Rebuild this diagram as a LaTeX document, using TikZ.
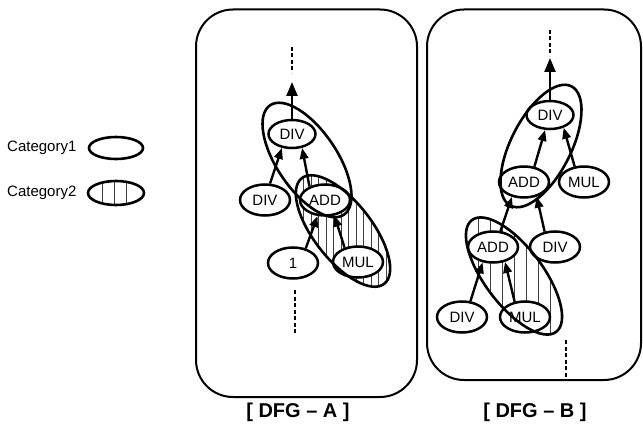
\documentclass[tikz,border=0pt]{standalone}
\usepackage{fontspec}
\setmainfont{Liberation Sans}
\usetikzlibrary{arrows.meta,shapes.geometric}
\begin{document}
\begin{tikzpicture}[x=1pt,y=-1pt,
 op/.style={ellipse,draw,line width=2.5pt,fill=white,minimum width=50pt,minimum height=31pt,inner sep=0pt,font=\fontsize{15}{15}\selectfont},
 topop/.style={op,minimum width=47pt,minimum height=28pt},
 edge/.style={line width=2.4pt,-{Triangle[length=11pt,width=8.5pt]}},
 outarrow/.style={line width=2.4pt,-{Triangle[length=14pt,width=11pt]}},
 contdash/.style={line width=2.8pt,dash pattern=on 4pt off 2.5pt},
 group/.style={line width=2.6pt},
 hatch/.style={line width=0.6pt,black!75},
 panel/.style={line width=2pt,rounded corners=37pt},
 caption/.style={font=\fontsize{20}{20}\selectfont\bfseries},
 legendtext/.style={font=\fontsize{15}{15}\selectfont,anchor=west,inner sep=0pt}]
\useasboundingbox (0,0) rectangle (643,428);

% ---------- legend ----------
\node[legendtext] (c1t) at (7,148) {Category1};
\node[legendtext] (c2t) at (7,193) {Category2};
\draw[group] (116,148) ellipse [x radius=27, y radius=11];
\begin{scope}
  \clip (116,193) ellipse [x radius=28, y radius=12];
  \foreach \x in {102,114,126} \draw[hatch,line width=0.9pt] (\x,175) -- (\x,210);
\end{scope}
\draw[group] (116,193) ellipse [x radius=28, y radius=12];

% ---------- panels ----------
\draw[panel] (196,9.5) rectangle (417,397);
\draw[panel] (427,9.5) rectangle (641,380);
\node[caption] (capA) at (298,412) {[ DFG \textendash\ A ]};
\node[caption] (capB) at (535,412) {[ DFG \textendash\ B ]};

% ---------- DFG A ----------
\begin{scope}
  \clip[shift={(343,231)},rotate=-52] (0,0) ellipse [x radius=67, y radius=29];
  \foreach \x in {296,303.5,...,392} \draw[hatch] (\x,160) -- (\x,300);
\end{scope}
\node[topop] (tdiv) at (292,134) {DIV};
\node[op] (ldiv) at (265,200) {DIV};
\node[op] (add) at (325,200) {ADD};
\node[op] (one) at (293,263) {1};
\node[op] (mul) at (358,262) {MUL};
\coordinate (aout) at (292,82);
\coordinate (adtop1) at (292,47);
\coordinate (adtop2) at (292,73);
\coordinate (adbot1) at (295,290);
\coordinate (adbot2) at (295,334);
\draw[outarrow] (tdiv.north) -- (aout);
\draw[contdash] (adtop1) -- (adtop2);
\draw[contdash] (adbot1) -- (adbot2);
\draw[edge] (ldiv.73) -- (tdiv.234);
\draw[edge] (add.139) -- (tdiv.306);
\draw[edge] (one.49) -- (add.245);
\draw[edge] (mul.133) -- (add.301);
\draw[group,shift={(307,160)},rotate=-56] (0,0) ellipse [x radius=66, y radius=30];
\draw[group,shift={(343,231)},rotate=-52] (0,0) ellipse [x radius=67, y radius=29];

% ---------- DFG B ----------
\begin{scope}
  \clip[shift={(514,276)},rotate=-53] (0,0) ellipse [x radius=70, y radius=29];
  \foreach \x in {466,478,...,562} \draw[hatch] (\x,210) -- (\x,340);
\end{scope}
\node[topop] (btdiv) at (550,115) {DIV};
\node[op] (badd1) at (524,182) {ADD};
\node[op] (bmul1) at (584,182) {MUL};
\node[op] (badd2) at (493,247) {ADD};
\node[op] (bdiv2) at (555,247) {DIV};
\node[op] (bdiv3) at (462,317) {DIV};
\node[op] (bmul3) at (525,317) {MUL};
\coordinate (bout) at (550,58);
\coordinate (bdtop1) at (550,30);
\coordinate (bdtop2) at (550,56);
\coordinate (bdbot1) at (566,340);
\coordinate (bdbot2) at (566,378);
\draw[outarrow] (btdiv.north) -- (bout);
\draw[contdash] (bdtop1) -- (bdtop2);
\draw[contdash] (bdbot1) -- (bdbot2);
\draw[edge] (badd1.56) -- (btdiv.252);
\draw[edge] (bmul1.121) -- (btdiv.317);
\draw[edge] (badd2.65) -- (badd1.231);
\draw[edge] (bdiv2.124) -- (badd1.311);
\draw[edge] (bdiv3.62) -- (badd2.236);
\draw[edge] (bmul3.124) -- (badd2.309);
\draw[group,shift={(541,146)},rotate=63] (0,0) ellipse [x radius=67, y radius=30];
\draw[group,shift={(514,276)},rotate=-53] (0,0) ellipse [x radius=70, y radius=29];
\end{tikzpicture}
\end{document}
